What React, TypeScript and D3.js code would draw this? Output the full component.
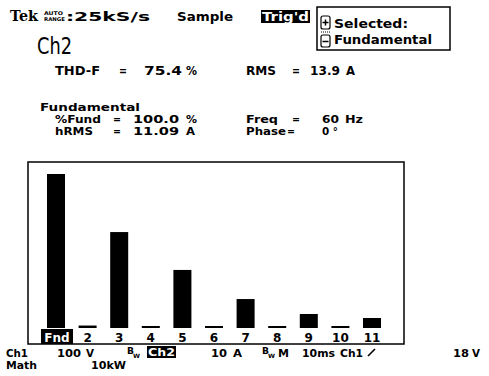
import React, { useEffect, useRef } from "react";
import * as d3 from "d3";

// harmonic spectrum, % of fundamental
const harmonics = ["Fnd", "2", "3", "4", "5", "6", "7", "8", "9", "10", "11"];
const percentOfFund = [100, 1.6, 62.3, 1.3, 37.7, 1.3, 18.8, 1.3, 9.1, 1.3, 6.5];

const bold = "'DejaVu Sans', 'Liberation Sans', sans-serif";

export default function App() {
  const ref = useRef<SVGSVGElement>(null);

  useEffect(() => {
    const width = 489;
    const height = 376;
    const svg = d3.select(ref.current).attr("width", width).attr("height", height);
    svg.selectAll("*").remove();

    svg.append("rect").attr("width", width).attr("height", height).attr("fill", "#fff");

    const txt = (x: number, y: number, s: string, size = 11, len?: number, fill = "#000", family = bold) => {
      const t = svg.append("text")
        .attr("x", x)
        .attr("y", y)
        .attr("font-family", family)
        .attr("font-weight", "bold")
        .attr("font-size", size)
        .attr("fill", fill)
        .text(s);
      if (len) t.attr("textLength", len).attr("lengthAdjust", "spacingAndGlyphs");
      return t;
    };

    // top status line
    txt(10, 21, "Tek", 15, 28, "#000", "'DejaVu Serif', serif");
    txt(44, 15, "AUTO", 5, 19);
    txt(44, 21, "RANGE", 5, 21);
    txt(66, 21, ":25kS/s", 12, 84);
    txt(177, 21, "Sample", 12, 56);
    svg.append("rect").attr("x", 261).attr("y", 10).attr("width", 49).attr("height", 13).attr("fill", "#000");
    txt(262, 21, "Trig'd", 12, 47, "#fff");

    // selection box
    svg.append("rect").attr("x", 317).attr("y", 7).attr("width", 133).attr("height", 43)
      .attr("fill", "none").attr("stroke", "#000").attr("stroke-width", 1.5);
    svg.append("rect").attr("x", 321).attr("y", 16).attr("width", 9).attr("height", 13).attr("rx", 2)
      .attr("fill", "none").attr("stroke", "#000").attr("stroke-width", 1.2);
    svg.append("path").attr("d", "M322.5,22.5H328.5M325.5,19.5V25.5").attr("stroke", "#000").attr("stroke-width", 1.5);
    svg.append("line").attr("x1", 321).attr("x2", 330).attr("y1", 32).attr("y2", 32)
      .attr("stroke", "#000").attr("stroke-dasharray", "1,1");
    svg.append("rect").attr("x", 321).attr("y", 35).attr("width", 9).attr("height", 12).attr("rx", 2)
      .attr("fill", "none").attr("stroke", "#000").attr("stroke-width", 1.2);
    svg.append("path").attr("d", "M322.5,41.5H328.5").attr("stroke", "#000").attr("stroke-width", 1.5);
    txt(334, 28, "Selected:", 12, 74);
    txt(334, 44, "Fundamental", 12, 98);

    // readouts
    svg.append("text").attr("x", 37).attr("y", 54)
      .attr("font-family", "'DejaVu Sans Condensed', 'Liberation Sans Narrow', sans-serif")
      .attr("font-size", 23).attr("textLength", 35).attr("lengthAdjust", "spacingAndGlyphs")
      .text("Ch2");
    txt(55, 75, "THD-F", 12, 45);
    txt(119, 75, "=", 12, 8);
    txt(144, 75, "75.4", 12, 38);
    txt(186, 75, "%", 12, 11);
    txt(246, 75, "RMS", 12, 30);
    txt(292, 75, "=", 12, 8);
    txt(310, 75, "13.9", 12, 30);
    txt(346, 75, "A", 12, 9);

    txt(40, 111, "Fundamental", 11, 100);
    txt(55, 123, "%Fund", 11, 46);
    txt(113, 123, "=", 11, 8);
    txt(133, 123, "100.0", 11, 46);
    txt(186, 123, "%", 11, 11);
    txt(55, 135, "hRMS", 11, 38);
    txt(113, 135, "=", 11, 8);
    txt(133, 135, "11.09", 11, 46);
    txt(186, 135, "A", 11, 9);
    txt(246, 123, "Freq", 11, 32);
    txt(292, 123, "=", 11, 8);
    txt(322, 123, "60", 11, 17);
    txt(345, 123, "Hz", 11, 18);
    txt(246, 135, "Phase", 11, 40);
    txt(287, 135, "=", 11, 8);
    txt(322, 135, "0 °", 11, 16);

    // spectrum
    const x = d3.scaleBand().domain(harmonics).range([40.2, 387.8]).paddingInner(0.43).paddingOuter(0.215);
    const y = d3.scaleLinear().domain([0, 100]).range([328, 174]);

    svg.selectAll(".bar")
      .data(harmonics)
      .enter()
      .append("rect")
      .attr("x", d => x(d) as number)
      .attr("y", (d, i) => y(percentOfFund[i]))
      .attr("width", x.bandwidth())
      .attr("height", (d, i) => y(0) - y(percentOfFund[i]))
      .attr("fill", "#000");

    // label under Fnd is highlighted
    svg.append("rect").attr("x", (x("Fnd") as number) - 6).attr("y", 329)
      .attr("width", x.bandwidth() + 14).attr("height", 15).attr("fill", "#000");

    svg.selectAll(".hlabel")
      .data(harmonics)
      .enter()
      .append("text")
      .attr("x", d => (x(d) as number) + x.bandwidth() / 2 + (d === "Fnd" ? 1 : 0))
      .attr("y", 342)
      .attr("text-anchor", "middle")
      .attr("font-family", bold)
      .attr("font-weight", "bold")
      .attr("font-size", 12)
      .attr("fill", d => (d === "Fnd" ? "#fff" : "#000"))
      .text(d => d);

    // frame
    svg.append("rect").attr("x", 28).attr("y", 162).attr("width", 376).attr("height", 182)
      .attr("fill", "none").attr("stroke", "#000").attr("stroke-width", 1.5);

    // bottom settings line
    txt(6, 357, "Ch1", 11, 22);
    txt(57, 357, "100", 11, 24);
    txt(86, 357, "V", 11, 8);
    txt(127, 354, "B", 9, 7);
    txt(133, 358, "W", 6, 7);
    svg.append("rect").attr("x", 147).attr("y", 346).attr("width", 29).attr("height", 12).attr("fill", "#000");
    txt(148, 356, "Ch2", 11, 27, "#fff");
    txt(211, 357, "10", 11, 16);
    txt(233, 357, "A", 11, 9);
    txt(262, 354, "B", 9, 7);
    txt(268, 358, "W", 6, 7);
    txt(278, 357, "M", 11, 11);
    txt(302, 357, "10ms", 11, 33);
    txt(340, 357, "Ch1", 11, 23);
    svg.append("path").attr("d", "M368,356L375,349").attr("stroke", "#000").attr("stroke-width", 1.6);
    txt(453, 357, "18", 11, 16);
    txt(472, 357, "V", 11, 8);
    txt(6, 369, "Math", 11, 31);
    txt(91, 369, "10kW", 11, 35);
  }, []);

  return <svg ref={ref} style={{ position: "absolute", left: 0, top: 0 }} />;
}
